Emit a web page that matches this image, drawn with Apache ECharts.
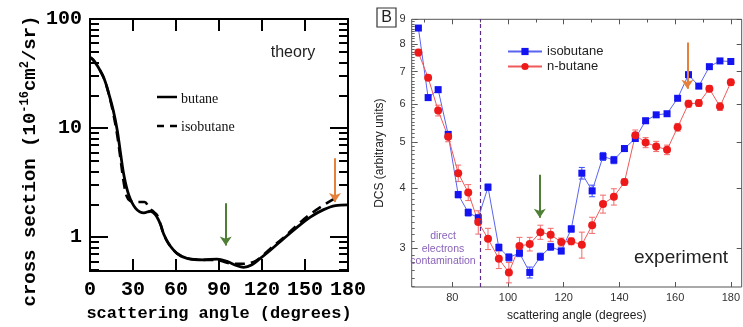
<!DOCTYPE html>
<html>
<head>
<meta charset="utf-8">
<script src="https://cdn.jsdelivr.net/npm/echarts@6/dist/echarts.min.js"></script>
<style>
  html, body { margin: 0; padding: 0; background: #fff; }
  #chart { width: 743px; height: 327px; }
</style>
</head>
<body>
<div id="chart"></div>
<script>
// ---- theory panel (left), log y ----
const butaneAngle = [0, 2, 5, 9.8, 13.3, 16.3, 19, 21.3, 23.7, 27.1, 31.7, 37.6, 42.2, 45.6, 49.1, 51.4, 54.9, 60.7, 67.7, 79.3, 88.6, 95.6, 102.6, 107.2, 113, 118.8, 125.8, 135.1, 144.4, 153.7, 163, 171.2, 180];
const butaneTheory = [44.5, 42.5, 37.5, 28.5, 20.3, 14.4, 9.55, 5.9, 3.67, 2.43, 1.85, 1.67, 1.73, 1.61, 1.32, 1.07, 0.87, 0.71, 0.64, 0.62, 0.63, 0.6, 0.547, 0.53, 0.56, 0.64, 0.76, 0.97, 1.23, 1.53, 1.79, 1.95, 1.98];
const isoAngle = [0, 2, 5, 9.8, 13.3, 16.3, 19, 21.3, 23.5, 25.5, 28, 33, 38, 41.5, 44.5, 47, 49.1, 51.4, 54.9, 60.7, 67.7, 79.3, 88.6, 95, 100, 105, 110, 115, 120, 126, 135, 144, 153, 163, 169, 174];
const isobutaneTheory = [44.5, 42.5, 37.5, 28.5, 20, 13.5, 8.6, 5.2, 3.2, 2.4, 2.15, 2.1, 2.1, 1.85, 1.7, 1.58, 1.32, 1.07, 0.87, 0.71, 0.64, 0.62, 0.62, 0.585, 0.57, 0.57, 0.575, 0.6, 0.67, 0.79, 0.99, 1.27, 1.6, 1.97, 2.2, 2.38];
const theoryXTicks = [0, 30, 60, 90, 120, 150, 180];
const theoryYLabels = [1, 10, 100];
const theoryYMinor = [0.5, 0.6, 0.7, 0.8, 0.9, 2, 3, 4, 5, 6, 7, 8, 9, 20, 30, 40, 50, 60, 70, 80, 90];

// ---- experiment panel (right), log y ----
const expAngle = [67.8, 71.3, 74.9, 78.5, 82.1, 85.7, 89.3, 92.8, 96.7, 100.3, 104.1, 107.8, 111.6, 115.3, 119.1, 122.7, 126.5, 130.2, 134.1, 138, 141.8, 145.7, 149.4, 153.2, 157.1, 160.9, 164.8, 168.5, 172.3, 176.1, 180];
const isobutaneExp = [8.63, 6.18, 6.42, 5.18, 3.88, 3.56, 3.47, 4.02, 3.01, 2.87, 2.93, 2.67, 2.88, 3.02, 2.96, 3.29, 4.3, 3.95, 4.66, 4.58, 4.84, 5.08, 5.53, 5.69, 5.72, 6.16, 6.9, 6.53, 7.17, 7.37, 7.35];
const isobutaneErr = [0.08, 0.08, 0.08, 0.07, 0.06, 0.06, 0.05, 0.06, 0.05, 0.05, 0.05, 0.07, 0.05, 0.05, 0.04, 0.05, 0.12, 0.11, 0.09, 0.08, 0.07, 0.07, 0.07, 0.06, 0.06, 0.06, 0.07, 0.06, 0.06, 0.06, 0.06];
const nbutaneExp = [7.67, 6.8, 5.81, 5.12, 4.3, 3.92, 3.4, 3.14, 2.85, 2.67, 3.03, 3.06, 3.24, 3.2, 3.09, 3.1, 3.05, 3.35, 3.71, 3.84, 4.12, 5.16, 4.98, 4.89, 4.81, 5.36, 6.0, 6.02, 6.45, 5.92, 6.65];
const nbutaneErr = [0.12, 0.085, 0.15, 0.12, 0.17, 0.15, 0.19, 0.16, 0.13, 0.13, 0.13, 0.1, 0.11, 0.1, 0.06, 0.05, 0.19, 0.13, 0.16, 0.15, 0.065, 0.13, 0.12, 0.12, 0.11, 0.1, 0.1, 0.095, 0.1, 0.11, 0.1];
const expXLabels = [80, 100, 120, 140, 160, 180];
const expXMinor = [70, 90, 110, 130, 150, 170];
const expYLabels = [3, 4, 5, 6, 7, 8, 9];

// arrows [angle, from, to]
const theoryGreen = [94.7, 2.05, 0.84];
const theoryOrange = [170.9, 5.3, 2.1];
const expGreen = [111.4, 4.27, 3.47];
const expOrange = [164.4, 8.05, 6.45];
const contaminationAngle = 90;

const lg = Math.log10;
const GREEN = '#4f7f34';
const ORANGE = '#e5813a';

const expYMinor = [];
for (let v = 2.5; v < 9.001; v += 0.1) expYMinor.push(lg(v));

const pairs = (xs, ys) => xs.map((x, i) => [x, lg(ys[i])]);
const errData = (ys, es) => expAngle.map((x, i) => [x, lg(ys[i] - es[i]), lg(ys[i] + es[i])]);

function errBars(color) {
  return function (params, api) {
    const x = api.value(0);
    const lo = api.coord([x, api.value(1)]);
    const hi = api.coord([x, api.value(2)]);
    const w = 3;
    const st = { stroke: color, lineWidth: 1 };
    return {
      type: 'group',
      children: [
        { type: 'line', shape: { x1: lo[0], y1: lo[1], x2: hi[0], y2: hi[1] }, style: st },
        { type: 'line', shape: { x1: lo[0] - w, y1: lo[1], x2: lo[0] + w, y2: lo[1] }, style: st },
        { type: 'line', shape: { x1: hi[0] - w, y1: hi[1], x2: hi[0] + w, y2: hi[1] }, style: st }
      ]
    };
  };
}

function arrow(a, color) {
  return [
    { coord: [a[0], lg(a[1])], lineStyle: { color: color, width: 2, type: 'solid' } },
    { coord: [a[0], lg(a[2])] }
  ];
}

const monoBold = { fontFamily: 'Liberation Mono', fontWeight: 'bold', color: '#000' };
const sans = { fontFamily: 'Liberation Sans', color: '#333' };
const hidden = { show: false };

const tMin = lg(0.49), tMax = 2;
const eMin = lg(2.49), eMax = lg(9);
const eXMin = 65.4, eXMax = 183.9;

const chart = echarts.init(document.getElementById('chart'));
chart.setOption({
  animation: false,
  grid: [
    { left: 90, top: 19, width: 258, height: 258.7, show: true, borderColor: '#000', borderWidth: 2 },
    { left: 411.7, top: 19.3, width: 330.8, height: 272.7, show: true, borderColor: '#555', borderWidth: 1 }
  ],
  xAxis: [
    { type: 'value', gridIndex: 0, min: 0, max: 180, interval: 30,
      axisLine: { show: false, onZero: false }, splitLine: hidden,
      axisTick: { inside: true, length: 12, lineStyle: { color: '#000', width: 2 } },
      axisLabel: Object.assign({ fontSize: 20, margin: 9 }, monoBold),
      name: 'scattering angle (degrees)', nameLocation: 'middle', nameGap: 34,
      nameTextStyle: Object.assign({ fontSize: 17 }, monoBold) },
    { type: 'value', gridIndex: 0, min: 0, max: 180, interval: 30, position: 'top',
      axisLine: { show: false, onZero: false }, splitLine: hidden, axisLabel: hidden,
      axisTick: { inside: true, length: 12, lineStyle: { color: '#000', width: 2 } } },
    { type: 'value', gridIndex: 1, min: eXMin, max: eXMax,
      axisLine: { show: false, onZero: false }, splitLine: hidden,
      axisTick: { inside: true, length: 5, customValues: expXLabels, lineStyle: { color: '#555' } },
      axisLabel: Object.assign({ fontSize: 11, margin: 5, customValues: expXLabels }, sans),
      name: 'scattering angle (degrees)', nameLocation: 'middle', nameGap: 23,
      nameTextStyle: { fontFamily: 'Liberation Sans', fontSize: 12, color: '#222' } },
    { type: 'value', gridIndex: 1, min: eXMin, max: eXMax,
      axisLine: { show: false, onZero: false }, splitLine: hidden, axisLabel: hidden,
      axisTick: { inside: true, length: 3, customValues: expXMinor, lineStyle: { color: '#555' } } },
    { type: 'value', gridIndex: 1, min: eXMin, max: eXMax, position: 'top',
      axisLine: { show: false, onZero: false }, splitLine: hidden, axisLabel: hidden,
      axisTick: { inside: true, length: 5, customValues: expXLabels, lineStyle: { color: '#555' } } },
    { type: 'value', gridIndex: 1, min: eXMin, max: eXMax, position: 'top',
      axisLine: { show: false, onZero: false }, splitLine: hidden, axisLabel: hidden,
      axisTick: { inside: true, length: 3, customValues: expXMinor, lineStyle: { color: '#555' } } }
  ],
  yAxis: [
    { type: 'value', gridIndex: 0, min: tMin, max: tMax, position: 'left',
      axisLine: { show: false, onZero: false }, splitLine: hidden,
      axisTick: { inside: true, length: 18, customValues: theoryYLabels.map(lg), lineStyle: { color: '#000', width: 2 } },
      axisLabel: Object.assign({ fontSize: 20, margin: 8, customValues: theoryYLabels.map(lg),
        formatter: v => String(Math.round(Math.pow(10, v))) }, monoBold) },
    { type: 'value', gridIndex: 0, min: tMin, max: tMax, position: 'left',
      axisLine: { show: false, onZero: false }, splitLine: hidden, axisLabel: hidden,
      axisTick: { inside: true, length: 9, customValues: theoryYMinor.map(lg), lineStyle: { color: '#000', width: 2 } } },
    { type: 'value', gridIndex: 0, min: tMin, max: tMax, position: 'right',
      axisLine: { show: false, onZero: false }, splitLine: hidden, axisLabel: hidden,
      axisTick: { inside: true, length: 18, customValues: theoryYLabels.map(lg), lineStyle: { color: '#000', width: 2 } } },
    { type: 'value', gridIndex: 0, min: tMin, max: tMax, position: 'right',
      axisLine: { show: false, onZero: false }, splitLine: hidden, axisLabel: hidden,
      axisTick: { inside: true, length: 9, customValues: theoryYMinor.map(lg), lineStyle: { color: '#000', width: 2 } } },
    { type: 'value', gridIndex: 1, min: eMin, max: eMax, position: 'left',
      axisLine: { show: false, onZero: false }, splitLine: hidden,
      axisTick: { inside: true, length: 6, customValues: expYLabels.map(lg), lineStyle: { color: '#555' } },
      axisLabel: Object.assign({ fontSize: 11, margin: 6, customValues: expYLabels.map(lg),
        formatter: v => String(Math.round(Math.pow(10, v))) }, sans),
      name: 'DCS (arbitrary units)', nameLocation: 'middle', nameGap: 26,
      nameTextStyle: { fontFamily: 'Liberation Sans', fontSize: 12, color: '#222' } },
    { type: 'value', gridIndex: 1, min: eMin, max: eMax, position: 'left',
      axisLine: { show: false, onZero: false }, splitLine: hidden, axisLabel: hidden,
      axisTick: { inside: true, length: 3, customValues: expYMinor, lineStyle: { color: '#666' } } },
    { type: 'value', gridIndex: 1, min: eMin, max: eMax, position: 'right',
      axisLine: { show: false, onZero: false }, splitLine: hidden, axisLabel: hidden,
      axisTick: { inside: true, length: 5, customValues: expYLabels.map(lg), lineStyle: { color: '#555' } } }
  ],
  legend: {
    data: ['isobutane', 'n-butane'],
    left: 502, top: 40, orient: 'vertical',
    itemWidth: 34, itemHeight: 9, itemGap: 2,
    textStyle: { fontFamily: 'Liberation Sans', fontSize: 13, color: '#222' }
  },
  series: [
    { name: 'butane', type: 'line', xAxisIndex: 0, yAxisIndex: 0,
      data: pairs(butaneAngle, butaneTheory), showSymbol: false, smooth: 0.35,
      lineStyle: { color: '#000', width: 2.8 },
      markLine: { silent: true, symbol: ['none', 'arrow'], symbolSize: 9, label: hidden,
        data: [arrow(theoryGreen, GREEN), arrow(theoryOrange, ORANGE)] } },
    { name: 'isobutane theory', type: 'line', xAxisIndex: 0, yAxisIndex: 0,
      data: pairs(isoAngle, isobutaneTheory), showSymbol: false, smooth: 0.35,
      lineStyle: { color: '#000', width: 2.6, type: [10, 6] } },
    { name: 'isobutane err', type: 'custom', xAxisIndex: 2, yAxisIndex: 4,
      data: errData(isobutaneExp, isobutaneErr), encode: { x: 0, y: [1, 2] },
      renderItem: errBars('#3d4dff') },
    { name: 'n-butane err', type: 'custom', xAxisIndex: 2, yAxisIndex: 4,
      data: errData(nbutaneExp, nbutaneErr), encode: { x: 0, y: [1, 2] },
      renderItem: errBars('#f26a6a') },
    { name: 'isobutane', type: 'line', xAxisIndex: 2, yAxisIndex: 4,
      data: pairs(expAngle, isobutaneExp), symbol: 'rect', symbolSize: 7,
      itemStyle: { color: '#1414f2' }, lineStyle: { color: '#5a64f0', width: 1 },
      markLine: { silent: true, symbol: 'none', label: hidden,
        lineStyle: { color: '#5b2b8c', type: [4, 3], width: 1.2 },
        data: [{ xAxis: contaminationAngle }] } },
    { name: 'n-butane', type: 'line', xAxisIndex: 2, yAxisIndex: 4,
      data: pairs(expAngle, nbutaneExp), symbol: 'circle', symbolSize: 8,
      itemStyle: { color: '#ee1a1a' }, lineStyle: { color: '#f05a5a', width: 1 },
      markLine: { silent: true, symbol: ['none', 'arrow'], symbolSize: 9, label: hidden,
        data: [arrow(expGreen, GREEN), arrow(expOrange, ORANGE)] } }
  ],
  graphic: [
    // theory y title (rotated, with superscripts)
    { type: 'text', x: 30, y: 161, rotation: Math.PI / 2,
      style: { text: '{a|cross section (10}{s|-16}{a|cm}{s|2}{a|/sr)}',
        textAlign: 'center', textVerticalAlign: 'middle',
        rich: {
          a: { fontFamily: 'Liberation Mono', fontWeight: 'bold', fontSize: 19, lineHeight: 24, fill: '#000' },
          s: { fontFamily: 'Liberation Mono', fontWeight: 'bold', fontSize: 12, lineHeight: 24, padding: [0, 0, 10, 0], fill: '#000' }
        } } },
    // theory legend
    { type: 'line', shape: { x1: 157, y1: 97, x2: 177, y2: 97 }, style: { stroke: '#000', lineWidth: 2.5 } },
    { type: 'line', shape: { x1: 157, y1: 126, x2: 164, y2: 126 }, style: { stroke: '#000', lineWidth: 2.5 } },
    { type: 'line', shape: { x1: 170, y1: 126, x2: 177, y2: 126 }, style: { stroke: '#000', lineWidth: 2.5 } },
    { type: 'text', x: 181, y: 99, style: { text: 'butane', font: '14px "Liberation Serif"', fill: '#111', textVerticalAlign: 'middle' } },
    { type: 'text', x: 181, y: 127, style: { text: 'isobutane', font: '14px "Liberation Serif"', fill: '#111', textVerticalAlign: 'middle' } },
    { type: 'text', x: 293, y: 53, style: { text: 'theory', font: '16px "Liberation Sans"', fill: '#222', textAlign: 'center', textVerticalAlign: 'middle' } },
    // experiment panel
    { type: 'rect', shape: { x: 377, y: 8, width: 19, height: 19 }, style: { fill: '#fff', stroke: '#333', lineWidth: 1.2 } },
    { type: 'text', x: 386.5, y: 18, style: { text: 'B', font: '16px "Liberation Sans"', fill: '#222', textAlign: 'center', textVerticalAlign: 'middle' } },
    { type: 'text', x: 681, y: 258, style: { text: 'experiment', font: '19px "Liberation Sans"', fill: '#222', textAlign: 'center', textVerticalAlign: 'middle' } },
    { type: 'text', x: 443, y: 249, style: { text: 'direct\nelectrons\ncontamination', font: '10.5px "Liberation Sans"', lineHeight: 12.5, fill: '#8a62b8', textAlign: 'center', textVerticalAlign: 'middle' } }
  ]
});
</script>
</body>
</html>
